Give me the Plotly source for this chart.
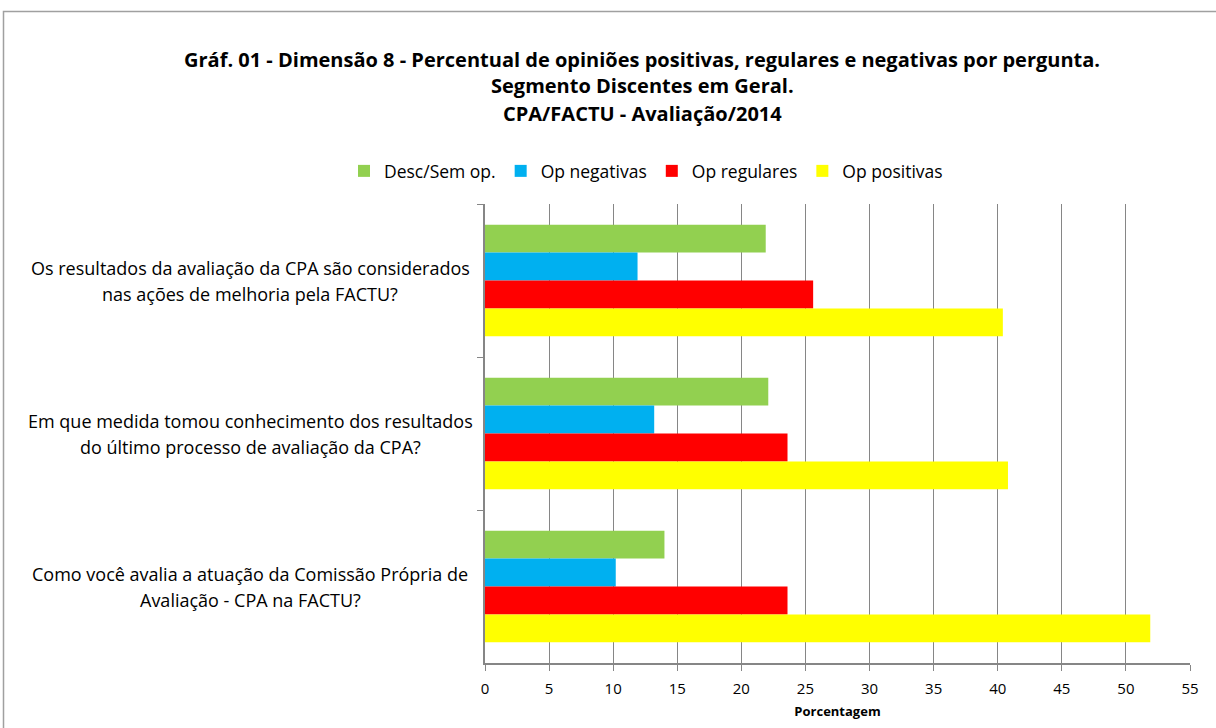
import plotly.graph_objects as go

categories = [
    "Os resultados da avaliação da CPA são considerados<br>nas ações de melhoria pela FACTU?",
    "Em que medida tomou conhecimento dos resultados<br>do último processo de avaliação da CPA?",
    "Como você avalia a atuação da Comissão Própria de<br>Avaliação - CPA na FACTU?",
]
series_names = ["Desc/Sem op.", "Op negativas", "Op regulares", "Op positivas"]
desc_sem_op = [21.9, 22.1, 14.0]
op_negativas = [11.9, 13.2, 10.2]
op_regulares = [25.6, 23.6, 23.6]
op_positivas = [40.4, 40.8, 51.9]
series_values = [desc_sem_op, op_negativas, op_regulares, op_positivas]
series_colors = ["#92D050", "#00B0F0", "#FF0000", "#FFFF00"]
x_ticks = list(range(0, 56, 5))

title_lines = [
    "Gráf. 01 - Dimensão 8 - Percentual de opiniões positivas, regulares e negativas por pergunta.",
    "Segmento Discentes em Geral.",
    "CPA/FACTU - Avaliação/2014",
]

W, H = 1216, 728
L, R, T, B = 485, 26, 204, 65
pw, ph = W - L - R, H - T - B
FONT = "Open Sans, Noto Sans, sans-serif"


def px2paper_x(px):
    return (px - L) / pw


def px2paper_y(py):
    return 1 - (py - T) / ph


fig = go.Figure()
for name, vals, col in zip(series_names, series_values, series_colors):
    fig.add_trace(go.Bar(
        y=categories, x=vals, name=name, orientation="h",
        marker=dict(color=col, line=dict(width=0)),
    ))

annotations = []
# category labels, centred, two lines each
for c in categories:
    lines = c.split("<br>")
    n = len(lines)
    for i, ln in enumerate(lines):
        annotations.append(dict(
            x=px2paper_x(250), xref="paper", xanchor="center",
            y=c, yref="y", yanchor="middle",
            yshift=-(i - (n - 1) / 2) * 26,
            text=ln, showarrow=False, align="center",
            font=dict(family=FONT, size=18, color="#000000"),
        ))

# title lines
for i, ln in enumerate(title_lines):
    annotations.append(dict(
        x=px2paper_x(642), xref="paper", xanchor="center",
        y=px2paper_y(59 + 27 * i), yref="paper", yanchor="middle",
        text="<b>" + ln + "</b>", showarrow=False,
        font=dict(family=FONT, size=20, color="#000000"),
    ))

fig.update_layout(
    width=W, height=H,
    margin=dict(l=L, r=R, t=T, b=B),
    paper_bgcolor="white", plot_bgcolor="white",
    font=dict(family=FONT, color="#000000"),
    barmode="group", bargap=0.27, bargroupgap=0,
    legend=dict(
        orientation="h", xref="container", yref="container",
        x=646 / W, xanchor="center", y=1 - 171 / H, yanchor="middle",
        font=dict(family=FONT, size=17.5), traceorder="normal",
        itemwidth=30,
    ),
    xaxis=dict(
        range=[0, 55], tickvals=x_ticks, ticktext=[str(t) for t in x_ticks],
        showgrid=True, gridcolor="#868686", gridwidth=1,
        showline=True, linecolor="#868686", linewidth=2,
        ticks="outside", ticklen=6, tickcolor="#868686",
        ticklabelstandoff=5,
        tickfont=dict(family=FONT, size=15),
        title=dict(text="<b>Porcentagem</b>", font=dict(family=FONT, size=13), standoff=10),
        zeroline=False,
    ),
    yaxis=dict(
        type="category", range=[2.5, -0.5],
        showticklabels=False, showgrid=False,
        showline=True, linecolor="#868686", linewidth=2,
        ticks="outside", tickson="boundaries", ticklen=6, tickcolor="#868686",
    ),
    annotations=annotations,
    shapes=[dict(
        type="rect", xref="paper", yref="paper",
        x0=px2paper_x(3.5), x1=px2paper_x(W + 10),
        y0=px2paper_y(H + 10), y1=px2paper_y(11.5),
        line=dict(color="#A0A0A0", width=1.5), fillcolor="rgba(0,0,0,0)",
        layer="below",
    )],
)

fig.write_html(
    "out.html",
    config={"displayModeBar": False},
    post_script="document.body.style.margin='0px';",
)
